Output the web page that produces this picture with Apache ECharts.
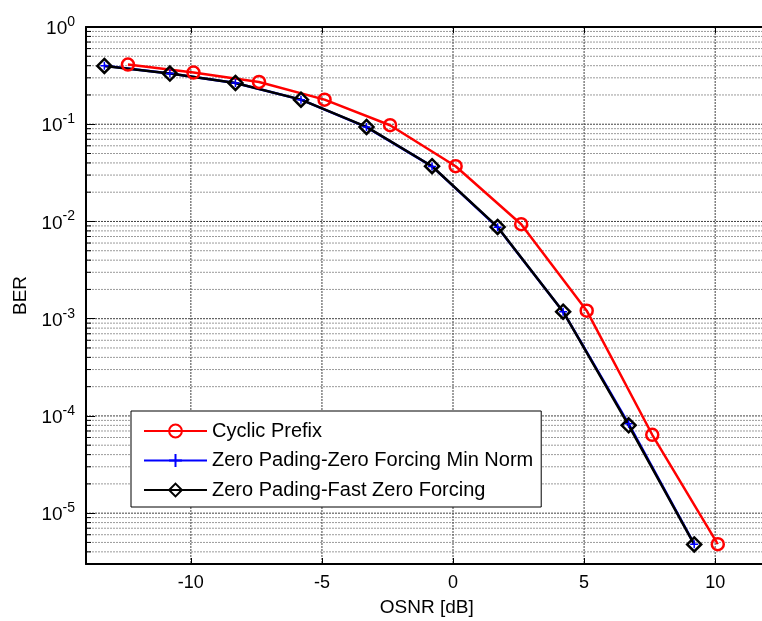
<!DOCTYPE html>
<html>
<head>
<meta charset="utf-8">
<script src="https://cdn.jsdelivr.net/npm/echarts@6/dist/echarts.min.js"></script>
<style>
html,body{margin:0;padding:0;background:#fff;}
#chart{width:762px;height:621px;}
</style>
</head>
<body>
<div id="chart"></div>
<script>
// ---- data ----
var seriesNames = ['Cyclic Prefix', 'Zero Pading-Zero Forcing Min Norm', 'Zero Pading-Fast Zero Forcing'];
var osnrCP = [-12.4, -9.9, -7.4, -4.9, -2.4, 0.1, 2.6, 5.1, 7.6, 10.1];
var berCP = [0.411, 0.340, 0.272, 0.179, 0.0977, 0.0370, 0.00937, 0.00121, 6.4e-5, 4.8e-6];
var osnrZP = [-13.3, -10.8, -8.3, -5.8, -3.3, -0.8, 1.7, 4.2, 6.7, 9.2];
var berMinNorm = [0.400, 0.333, 0.266, 0.179, 0.0935, 0.0368, 0.0087, 0.00118, 8.3e-5, 4.8e-6];
var berFastZF = [0.398, 0.332, 0.266, 0.179, 0.0938, 0.0370, 0.00879, 0.00118, 8.0e-5, 4.77e-6];
var xTicks = [-10, -5, 0, 5, 10];
var xMin = -14, xMax = 12;
var yMin = 3e-6, yMax = 1;
var decades = [-6, -5, -4, -3, -2, -1];

function pairs(xs, ys) { return xs.map(function (x, i) { return [x, ys[i]]; }); }

// grid line values
var hMajor = [], hMinor = [];
decades.forEach(function (d) {
  var base = Math.pow(10, d);
  for (var k = 2; k <= 9; k++) {
    var v = k * base;
    if (v >= yMin && v <= yMax) hMinor.push([xMin, v]);
  }
});
[-5, -4, -3, -2, -1, 0].forEach(function (d) { hMajor.push([xMin, Math.pow(10, d)]); });
var vMajor = xTicks.map(function (t) { return [t, yMax]; });

var FONT = 'Liberation Sans, Arial, sans-serif';

function hLine(color, dash, tickLen) {
  return function (params, api) {
    var cs = params.coordSys;
    var y = api.coord([api.value(0), api.value(1)])[1];
    return {
      type: 'group',
      children: [
        { type: 'line', shape: { x1: cs.x, y1: y, x2: cs.x + cs.width, y2: y },
          style: { stroke: color, lineWidth: 1, lineDash: dash } },
        { type: 'line', shape: { x1: cs.x, y1: y, x2: cs.x + tickLen, y2: y },
          style: { stroke: '#000', lineWidth: 1 } }
      ]
    };
  };
}
function vLine(color, dash) {
  return function (params, api) {
    var cs = params.coordSys;
    var x = api.coord([api.value(0), api.value(1)])[0];
    return { type: 'line', shape: { x1: x, y1: cs.y, x2: x, y2: cs.y + cs.height },
      style: { stroke: color, lineWidth: 1, lineDash: dash } };
  };
}

var chart = echarts.init(document.getElementById('chart'), null, { renderer: 'canvas' });
var option = {
  backgroundColor: '#fff',
  animation: false,
  textStyle: { fontFamily: FONT },
  grid: { left: 86, top: 27, width: 681.6, height: 537, containLabel: false, outerBoundsMode: 'none' },
  legend: {
    data: seriesNames,
    orient: 'vertical',
    left: 131, top: 411,
    padding: [10, 8, 7, 12],
    itemWidth: 63, itemHeight: 16, itemGap: 9.5,
    backgroundColor: '#fff', borderColor: '#000', borderWidth: 1, borderRadius: 0,
    textStyle: { fontSize: 20, color: '#000', fontFamily: FONT, lineHeight: 20 }
  },
  xAxis: [{
    type: 'value', min: xMin, max: xMax, position: 'bottom',
    name: 'OSNR [dB]', nameLocation: 'middle', nameGap: 34,
    nameTextStyle: { fontSize: 19, color: '#000', fontFamily: FONT },
    axisLine: { show: true, onZero: false, lineStyle: { color: '#000', width: 2 } },
    axisTick: { show: true, inside: true, length: 6, customValues: xTicks, lineStyle: { color: '#000' } },
    axisLabel: { show: true, customValues: xTicks, fontSize: 18, color: '#000', margin: 10, fontFamily: FONT },
    splitLine: { show: false }
  }, {
    type: 'value', min: xMin, max: xMax, position: 'top',
    axisLine: { show: true, onZero: false, lineStyle: { color: '#000', width: 2 } },
    axisTick: { show: true, inside: true, length: 6, customValues: xTicks, lineStyle: { color: '#000' } },
    axisLabel: { show: false },
    splitLine: { show: false }
  }],
  yAxis: {
    type: 'log', min: yMin, max: yMax, logBase: 10,
    name: 'BER', nameLocation: 'middle', nameGap: 56, nameRotate: 90,
    nameTextStyle: { fontSize: 19, color: '#000', fontFamily: FONT },
    axisLine: { show: true, onZero: false, lineStyle: { color: '#000', width: 2 } },
    axisTick: { show: true, inside: true, length: 9, lineStyle: { color: '#000' } },
    axisLabel: {
      show: true, margin: 11, color: '#000',
      formatter: function (v) {
        var e = Math.log(v) / Math.LN10;
        var r = Math.round(e);
        if (Math.abs(e - r) > 1e-6) return '';
        return '{b|10}{e|' + r + '}';
      },
      rich: {
        b: { fontSize: 19, fontFamily: FONT, color: '#000', lineHeight: 20, padding: [4, 0, 0, 0] },
        e: { fontSize: 14, fontFamily: FONT, color: '#000', lineHeight: 20, padding: [0, 0, 10, 0] }
      }
    },
    splitLine: { show: false }
  },
  series: [
    { type: 'custom', name: 'gridMinor', silent: true, z: 0, data: hMinor,
      renderItem: hLine('#9a9a9a', [2, 1], 5) },
    { type: 'custom', name: 'gridMajor', silent: true, z: 0, data: hMajor,
      renderItem: hLine('#404040', [2, 1], 0) },
    { type: 'custom', name: 'gridV', silent: true, z: 0, data: vMajor,
      renderItem: vLine('#404040', [2, 1]) },
    {
      name: seriesNames[0], type: 'line', data: pairs(osnrCP, berCP), z: 3,
      symbol: 'circle', symbolSize: 12,
      lineStyle: { color: '#ff0000', width: 2.5 },
      itemStyle: { color: 'rgba(255,255,255,0)', borderColor: '#ff0000', borderWidth: 2.5 }
    },
    {
      name: seriesNames[1], type: 'line', data: pairs(osnrZP, berMinNorm), z: 3,
      symbol: 'path://M0,-5 L0,5 M-5,0 L5,0', symbolSize: 8,
      lineStyle: { color: '#0000ff', width: 2.5 },
      itemStyle: { color: '#0000ff', borderColor: '#0000ff', borderWidth: 1.5 }
    },
    {
      name: seriesNames[2], type: 'line', data: pairs(osnrZP, berFastZF), z: 3,
      symbol: 'diamond', symbolSize: 14,
      lineStyle: { color: '#000000', width: 2.5 },
      itemStyle: { color: 'rgba(255,255,255,0)', borderColor: '#000000', borderWidth: 2.5 }
    }
  ]
};
chart.setOption(option);
</script>
</body>
</html>
